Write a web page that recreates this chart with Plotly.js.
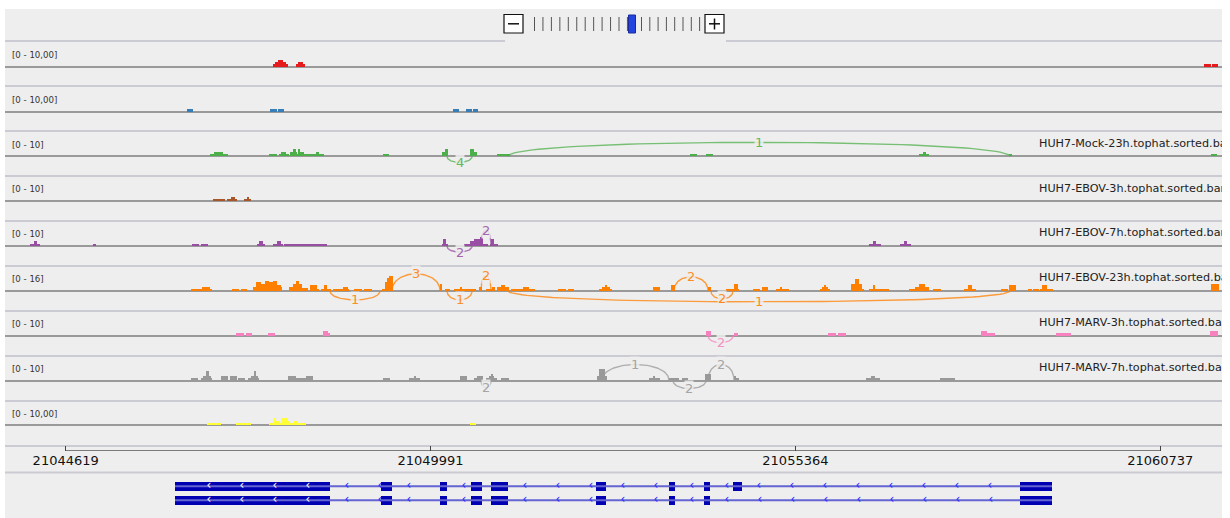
<!DOCTYPE html>
<html><head><meta charset="utf-8">
<script src="https://cdn.plot.ly/plotly-3.0.1.min.js"></script>
<style>html,body{margin:0;padding:0;background:#fff;}#chart{width:1230px;height:518px;}</style>
</head><body><div id="chart"></div>
<script>
// ---------------- DATA ----------------
const regionStart = 21043652;               // offsets below are bp from this position
const tickPositions = [21044619, 21049991, 21055364, 21060737];
const tickLabels = ['21044619', '21049991', '21055364', '21060737'];

const trackNames = ['', '', 'HUH7-Mock-23h.tophat.sorted.bam', 'HUH7-EBOV-3h.tophat.sorted.bam',
  'HUH7-EBOV-7h.tophat.sorted.bam', 'HUH7-EBOV-23h.tophat.sorted.bam', 'HUH7-MARV-3h.tophat.sorted.bam',
  'HUH7-MARV-7h.tophat.sorted.bam', ''];
const rangeLabels = ['[0 - 10,00]', '[0 - 10,00]', '[0 - 10]', '[0 - 10]', '[0 - 10]', '[0 - 16]', '[0 - 10]', '[0 - 10]', '[0 - 10,00]'];
const rangeMax = [10, 10, 10, 10, 10, 16, 10, 10, 10];

// coverage segments: [startOffset, endOffset, depth]
const redCov = [[4020,4241,1],[4049,4211,2],[4093,4167,3],[4358,4491,1],[4388,4461,2],[17728,17831,1],[17846,17934,1]];
const blueCov = [[2753,2842,1],[3975,4078,1],[4093,4182,1],[6670,6758,1],[6861,6950,1],[6964,7038,1]];
const greenCov = [[3092,3357,1],[3151,3283,2],[3961,4078,1],[4108,4255,1],[4137,4211,2],[4270,4771,1],[4270,4373,2],
  [4314,4358,3],[4388,4476,2],[4388,4417,3],[4653,4697,2],[5639,5728,1],[6508,6596,2],[6552,6596,3],[6920,7023,2],
  [6920,6979,3],[7318,7509,1],[10160,10263,1],[10395,10498,1],[13531,13678,1],[13590,13634,2],[14857,14901,1],[17831,17919,1]];
const brownCov = [[3136,3313,1],[3342,3490,1],[3401,3460,2],[3593,3696,1],[3637,3666,2]];
const purpleCov = [[442,589,1],[501,545,2],[1369,1414,1],[2827,2930,1],[2960,3063,1],[3784,3902,1],[3814,3872,2],
  [4020,4167,1],[4078,4137,2],[4182,4815,1],[6508,6596,1],[6523,6567,3],[6832,7185,1],[6920,6979,2],[6979,7097,3],
  [7068,7112,4],[7215,7333,1],[7229,7274,3],[12795,12972,1],[12854,12898,2],[13252,13414,1],[13311,13355,2]];
const orangeCov = [[2812,3122,1],[2974,3092,3],[3416,3519,1],[3548,3637,1],[3725,4152,3],[3769,3843,6],[3843,3902,5],
  [3902,3961,7],[3961,4020,6],[4020,4078,7],[4078,4137,4],[4255,4535,2],[4255,4314,3],[4314,4358,5],[4358,4402,7],
  [4402,4446,5],[4564,4668,4],[4668,4697,1],[4727,4874,1],[4771,4815,4],[4903,5139,1],[5050,5124,3],[5212,5330,1],
  [5360,5477,1],[5625,5669,1],[5669,5698,6],[5698,5728,9],[5728,5787,10],[6479,6508,5],[6552,6626,1],[6685,6935,1],
  [6773,6803,3],[6935,7008,1],[7053,7097,3],[7156,7288,1],[7244,7288,3],[7318,7495,3],[7377,7436,4],[7524,7877,1],
  [7701,7789,3],[8216,8334,1],[8363,8452,1],[8820,9011,1],[8864,8982,3],[8908,8937,4],[9615,9718,3],[9880,9939,4],
  [10425,10469,3],[10690,10881,1],[10808,10866,5],[11087,11190,1],[11219,11308,3],[11426,11617,1],[11485,11514,3],
  [12074,12221,1],[12103,12191,3],[12133,12162,4],[12530,12692,5],[12589,12648,8],[12692,12722,1],[12795,12972,1],
  [12854,12884,4],[12972,13090,1],[13384,13502,1],[13472,13678,3],[13531,13620,5],[13737,13855,1],[14194,14371,1],
  [14253,14312,4],[14739,14842,1],[14857,14960,4],[15136,15195,1],[15210,15298,1],[15313,15505,1],[15342,15416,4],
  [17831,17949,5]];
const pinkCov = [[3475,3593,1],[3622,3710,1],[3946,4049,1],[4756,4859,1],[4756,4830,2],[10395,10469,2],[10808,10866,1],
  [12191,12309,1],[12339,12457,1],[14444,14650,1],[14444,14533,2],[15549,15770,1],[17816,17934,2]];
const greyCov = [[2812,2915,1],[2960,3122,1],[2989,3107,2],[3033,3077,4],[3254,3357,2],[3387,3490,2],[3504,3607,1],
  [3651,3814,1],[3696,3799,2],[3740,3769,4],[4241,4358,2],[4358,4505,1],[4505,4609,2],[5639,5743,1],[6022,6184,1],
  [6096,6125,2],[6773,6876,2],[6979,7112,1],[7023,7112,2],[7156,7318,1],[7200,7274,2],[7229,7259,3],[7377,7495,1],
  [8790,8937,2],[8820,8908,5],[9556,9718,1],[9615,9644,2],[9850,9998,1],[10042,10130,1],[10380,10469,3],
  [10808,10881,1],[10808,10837,2],[12751,12957,1],[12825,12884,2],[13841,14061,1]];
const yellowCov = [[3048,3254,1],[3475,3696,1],[3961,4505,1],[4020,4123,2],[4034,4064,3],[4137,4241,3],[4241,4270,2],
  [4329,4373,2],[6920,7008,1]];

// splice junctions: [startOffset, endOffset, readCount]
const greenJunc = [[6582,6950,4],[7480,14871,1]];
const purpleJunc = [[6582,6950,2],[7082,7229,2]];
const orangeJunc = [[4859,5595,1],[5772,6479,3],[6582,6950,1],[7082,7229,2],[7480,14871,1],[9924,10425,2],[10469,10793,2]];
const pinkJunc = [[10425,10793,2]];
const greyJunc = [[7082,7229,2],[8864,9850,1],[9909,10395,2],[10425,10808,2]];

// gene model exons: [startOffset, endOffset]
const tx1Exons = [[2577,4859],[5610,5772],[6479,6582],[6935,7097],[7229,7480],[8776,8923],[9850,9939],[10366,10454],[10793,10925],[15018,15490]];
const tx2Exons = [[2577,4859],[5610,5772],[6479,6582],[6935,7097],[7229,7480],[8776,8923],[9850,9939],[10366,10454],[15018,15490]];

// ---------------- STYLE / LAYOUT ----------------
const trackCov = [redCov, blueCov, greenCov, brownCov, purpleCov, orangeCov, pinkCov, greyCov, yellowCov];
const trackJunc = [[], [], greenJunc, [], purpleJunc, orangeJunc, pinkJunc, greyJunc, []];
const arcHeightPx = [[], [], [-6, 14], [], [-6, 16], [-9, 17, -9, 15, -11, 14, -8], [-7], [-7, 16, -8, 16], []];
const colors = ['#e41a1c', '#377eb8', '#4daf4a', '#a65628', '#984ea3', '#ff7f00', '#f781bf', '#999999', '#ffff33'];

const W = 1230, H = 518;
const px2x = p => p / W;
const py2y = p => 1 - p / H;
const bpPerPx = (tickPositions[3] - tickPositions[0]) / (1160.3 - 65.7);
const pxToBp = p => tickPositions[0] + (p - 65.7) * bpPerPx;
const FONT = 'DejaVu Sans';

const traces = [];
const annotations = [];
const shapes = [];
const layout = {
  width: W, height: H, margin: {l: 0, r: 0, t: 0, b: 0},
  paper_bgcolor: '#ffffff', plot_bgcolor: 'rgba(0,0,0,0)',
  showlegend: false, barmode: 'overlay', bargap: 0,
  font: {family: FONT, color: '#222'},
  hovermode: false,
  xaxis: {
    domain: [px2x(5), px2x(1222)], range: [pxToBp(5), pxToBp(1222)],
    anchor: 'y', side: 'bottom', showgrid: false, zeroline: false, showline: false,
    ticks: 'inside', ticklen: 5, tickwidth: 1, tickcolor: '#444',
    tickvals: tickPositions, ticktext: tickLabels,
    tickfont: {family: FONT, size: 13, color: '#111'}
  },
  yaxis: {domain: [py2y(451), py2y(446)], range: [0, 1], visible: false, anchor: 'x'}
};

// ruler line (creates the ruler subplot the x axis is anchored to)
traces.push({type: 'scatter', mode: 'lines', xaxis: 'x', yaxis: 'y',
  x: [tickPositions[0], tickPositions[tickPositions.length - 1]], y: [0, 0],
  line: {color: '#555', width: 1.5}, cliponaxis: false, hoverinfo: 'skip'});

// background
shapes.push({type: 'rect', xref: 'paper', yref: 'paper', x0: px2x(5), x1: px2x(1222), y0: 0, y1: py2y(9),
  fillcolor: '#eeeeee', line: {width: 0}, layer: 'below'});
// separators
for (let k = 0; k <= 9; k++) {
  const y = py2y(41 + 45 * k);
  const segs = k === 0 ? [[5, 505], [726, 1222]] : [[5, 1222]];
  segs.forEach(s => shapes.push({type: 'line', xref: 'paper', yref: 'paper', x0: px2x(s[0]), x1: px2x(s[1]), y0: y, y1: y,
    line: {color: '#cbcbd3', width: 2}, layer: 'below'}));
}
shapes.push({type: 'line', xref: 'paper', yref: 'paper', x0: px2x(5), x1: px2x(1222), y0: py2y(472.5), y1: py2y(472.5),
  line: {color: '#cbcbd3', width: 2}, layer: 'below'});

// zoom widget
const wline = (x0, y0, x1, y1, c, w) => shapes.push({type: 'line', xref: 'paper', yref: 'paper',
  x0: px2x(x0), x1: px2x(x1), y0: py2y(y0), y1: py2y(y1), line: {color: c, width: w}});
const wrect = (x0, y0, x1, y1, fill, lc, lw) => shapes.push({type: 'rect', xref: 'paper', yref: 'paper',
  x0: px2x(x0), x1: px2x(x1), y0: py2y(y1), y1: py2y(y0), fillcolor: fill, line: {color: lc, width: lw}});
for (let k = 0; k < 12; k++) wline(534.5 + 8.45 * k, 17, 534.5 + 8.45 * k, 31, '#555', 1);
for (let k = 0; k < 8; k++) wline(641.5 + 8.3 * k, 17, 641.5 + 8.3 * k, 31, '#555', 1);
wrect(628.5, 15, 635.5, 33, '#2444e0', '#1a2a9a', 1);
wrect(504, 14.5, 523, 33, '#ffffff', '#111', 1.2);
wline(508, 23.8, 519, 23.8, '#111', 1.5);
wrect(705, 14.5, 724, 33, '#ffffff', '#111', 1.2);
wline(709, 23.8, 720, 23.8, '#111', 1.5);
wline(714.5, 18.5, 714.5, 29.5, '#111', 1.5);

// tracks
const labelX = pxToBp(1039);
for (let k = 0; k < 9; k++) {
  const M = rangeMax[k];
  const base = 66.7 + 44.83 * k;
  const ya = 'y' + (k + 2);
  layout['yaxis' + (k + 2)] = {
    domain: [py2y(base + 20), py2y(base - 25)], range: [-20 * M / 23, 25 * M / 23],
    showticklabels: false, ticks: '', showgrid: false, showline: false,
    zeroline: true, zerolinecolor: '#9a9a9a', zerolinewidth: 2, anchor: 'x'
  };
  const cov = trackCov[k];
  traces.push({
    type: 'bar', xaxis: 'x', yaxis: ya,
    x: cov.map(s => regionStart + (s[0] + s[1]) / 2),
    width: cov.map(s => s[1] - s[0]),
    y: cov.map(s => s[2]),
    marker: {color: colors[k], line: {width: 0}},
    hoverinfo: 'skip'
  });
  // junction arcs
  trackJunc[k].forEach((j, i) => {
    const hv = arcHeightPx[k][i] * M / 23;
    const s = regionStart + j[0], e = regionStart + j[1];
    const xs = [], ys = [];
    for (let n = 0; n <= 60; n++) {
      const t = n / 60, u = 1 - t;
      xs.push(u * u * u * s + 3 * u * u * t * s + 3 * u * t * t * e + t * t * t * e);
      ys.push((3 * u * u * t + 3 * u * t * t) * (4 / 3) * hv);
    }
    traces.push({type: 'scatter', mode: 'lines', xaxis: 'x', yaxis: ya, x: xs, y: ys,
      line: {color: colors[k], width: 1.4}, opacity: 0.75, hoverinfo: 'skip'});
    annotations.push({xref: 'x', yref: ya, x: (s + e) / 2, y: hv, text: String(j[2]), showarrow: false,
      font: {family: FONT, size: 13, color: colors[k]}, bgcolor: '#eeeeee', borderpad: 0,
      xanchor: 'center', yanchor: 'middle', opacity: 0.85});
  });
  // track name (clipped at the panel edge)
  if (trackNames[k]) {
    traces.push({type: 'scatter', mode: 'text', xaxis: 'x', yaxis: ya, x: [labelX], y: [12.4 * M / 23],
      text: [trackNames[k]], textposition: 'middle right', cliponaxis: true,
      textfont: {family: FONT, size: 11.2, color: '#222'}, hoverinfo: 'skip'});
  }
  annotations.push({xref: 'paper', yref: 'paper', x: px2x(10), y: py2y(base - 11.7), text: rangeLabels[k],
    showarrow: false, xanchor: 'left', yanchor: 'middle', font: {family: FONT, size: 8.6, color: '#333'}});
}

// gene models
layout.yaxis11 = {domain: [0, py2y(472)], range: [-1.264, 2.021], visible: false, anchor: 'x'};
const transcripts = [tx1Exons, tx2Exons];
const rows = [1, 0];
const chevX = [], chevY = [], whiteX = [], whiteY = [];
transcripts.forEach((ex, r) => {
  const y = rows[r];
  traces.push({type: 'scatter', mode: 'lines', xaxis: 'x', yaxis: 'y11',
    x: [regionStart + ex[0][0], regionStart + ex[ex.length - 1][1]], y: [y, y],
    line: {color: '#6464d2', width: 2}, hoverinfo: 'skip'});
  for (let i = 0; i < ex.length - 1; i++) {
    for (let p = ex[i][1] + 250; p < ex[i + 1][0]; p += 486) { chevX.push(regionStart + p); chevY.push(y); }
  }
  ex.forEach(e => {
    if (e[1] - e[0] > 1000) for (let p = e[0] + 500; p < e[1] - 300; p += 486) { whiteX.push(regionStart + p); whiteY.push(y); }
  });
  traces.push({type: 'bar', orientation: 'h', xaxis: 'x', yaxis: 'y11',
    y: ex.map(() => y), base: ex.map(e => regionStart + e[0]), x: ex.map(e => e[1] - e[0]),
    width: 0.62, marker: {color: '#0000b2', line: {width: 0}}, hoverinfo: 'skip'});
});
traces.push({type: 'scatter', mode: 'text', xaxis: 'x', yaxis: 'y11', x: chevX, y: chevY, text: chevX.map(() => '‹'),
  textposition: 'middle center', textfont: {family: FONT, size: 12, color: '#2626ff'}, hoverinfo: 'skip'});
traces.push({type: 'scatter', mode: 'text', xaxis: 'x', yaxis: 'y11', x: whiteX, y: whiteY, text: whiteX.map(() => '‹'),
  textposition: 'middle center', textfont: {family: FONT, size: 12, color: '#ffffff'}, hoverinfo: 'skip'});

layout.shapes = shapes;
layout.annotations = annotations;
Plotly.newPlot('chart', traces, layout, {staticPlot: true, displayModeBar: false});
</script></body></html>
